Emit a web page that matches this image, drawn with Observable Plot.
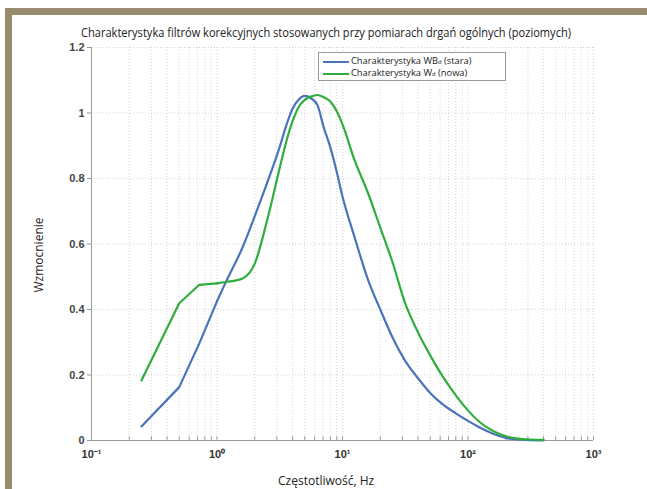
<!DOCTYPE html>
<html>
<head>
<meta charset="utf-8">
<script src="https://cdn.jsdelivr.net/npm/d3@7"></script>
<script src="https://cdn.jsdelivr.net/npm/@observablehq/plot@0.6"></script>
<style>
  html, body { margin: 0; padding: 0; background: #fff; }
  #wrap { position: relative; width: 647px; height: 489px; overflow: hidden; background: #fff; }
  #wrap svg { position: absolute; left: 0; top: 0; }
  .bar { position: absolute; background: #978b6e; }
  .txt { position: absolute; font-family: "Liberation Sans Narrow", "Open Sans", sans-serif; color: #222; white-space: nowrap; }
  #legend { position: absolute; left: 318px; top: 52px; width: 186px; height: 27px; border: 1px solid #9a9a9a; background: #fff;
            font-family: "Open Sans", sans-serif; font-size: 9.3px; color: #222; }
  .lrow { position: absolute; left: 4px; height: 12px; line-height: 12px; white-space: nowrap; }
  .lsw { display: inline-block; width: 26px; height: 0; border-top: 2px solid; vertical-align: middle; margin-right: 2px; }
  .sb { font-size: 6px; }
</style>
</head>
<body>
<div id="wrap"></div>
<script>
// ---- data ----
const freqs    = [0.25, 0.5, 0.72, 1.0, 1.18, 1.6, 2.0, 2.5, 3.15, 3.55, 4.0, 4.5, 5.0, 5.6, 6.3, 7.1, 8.0, 9.0, 10, 12.5, 16, 20, 25, 31.5, 40, 50, 63, 80, 100, 125, 160, 200, 250, 315, 400];
const wbValues = [0.043, 0.163, 0.295, 0.425, 0.485, 0.59, 0.685, 0.785, 0.895, 0.96, 1.013, 1.042, 1.052, 1.045, 1.025, 0.955, 0.895, 0.82, 0.745, 0.62, 0.49, 0.40, 0.315, 0.244, 0.19, 0.145, 0.11, 0.083, 0.06, 0.039, 0.02, 0.008, 0.003, 0.001, 0.0005];
const wkValues = [0.183, 0.419, 0.475, 0.48, 0.484, 0.495, 0.54, 0.67, 0.83, 0.91, 0.975, 1.02, 1.04, 1.05, 1.055, 1.048, 1.035, 1.005, 0.965, 0.855, 0.755, 0.65, 0.545, 0.42, 0.33, 0.26, 0.195, 0.138, 0.092, 0.055, 0.028, 0.013, 0.006, 0.003, 0.002];
const xTicks = [0.1, 1, 10, 100, 1000];
const xTickLabels = ["10\u207B\u00B9", "10\u2070", "10\u00B9", "10\u00B2", "10\u00B3"];
const yTicks = [0, 0.2, 0.4, 0.6, 0.8, 1, 1.2];
const yTickLabels = ["0", "0.2", "0.4", "0.6", "0.8", "1", "1.2"];
const seriesNames = ["Charakterystyka WB", "Charakterystyka W"];
const seriesSubs = ["d", "d"];
const seriesNotes = ["(stara)", "(nowa)"];
const titleText = "Charakterystyka filtrów korekcyjnych stosowanych przy  pomiarach drgań ogólnych (poziomych)";
const xLabel = "Częstotliwość, Hz";
const yLabel = "Wzmocnienie";

const minorX = [];
for (let e = -1; e < 3; e++) for (let k = 1; k <= 9; k++) minorX.push(k * Math.pow(10, e));
minorX.push(1000);

const wbData = freqs.map((f, i) => ({f, v: wbValues[i]}));
const wkData = freqs.map((f, i) => ({f, v: wkValues[i]}));
const lowPart = d => d.f <= 1.0;
const highPart = d => d.f >= 1.0;

const blue = "#4a74b9";
const green = "#2fae3f";

const chart = Plot.plot({
  width: 647,
  height: 489,
  marginLeft: 91,
  marginRight: 54,
  marginTop: 47,
  marginBottom: 49,
  style: {background: "transparent", fontFamily: "Liberation Sans, Arial, sans-serif"},
  x: {type: "log", domain: [0.1, 1000], axis: null},
  y: {domain: [0, 1.2], axis: null},
  marks: [
    Plot.ruleX(minorX, {stroke: "#c0c0c0", strokeDasharray: "1,2", strokeWidth: 0.7}),
    Plot.ruleY(yTicks, {stroke: "#c0c0c0", strokeDasharray: "1,2", strokeWidth: 0.7}),
    Plot.ruleX(minorX, {x: d => d, y1: 0, y2: 0.012, stroke: "#888", strokeWidth: 0.8}),
    Plot.ruleX([0.1], {stroke: "#9a9a9a", strokeWidth: 1}),
    Plot.ruleY([0], {stroke: "#9a9a9a", strokeWidth: 1}),
    Plot.text(xTicks, {x: d => d, y: 0, text: (d, i) => xTickLabels[i], dy: 14, fontSize: 11, fontWeight: "bold", fill: "#333"}),
    Plot.axisY(yTicks, {tickSize: 4, tickPadding: 3, fontSize: 11, fontWeight: "bold", fill: "#444", stroke: "#999",
      tickFormat: d => yTickLabels[yTicks.indexOf(d)], label: null}),
    Plot.line(wbData.filter(lowPart), {x: "f", y: "v", stroke: blue, strokeWidth: 2.2}),
    Plot.line(wbData.filter(highPart), {x: "f", y: "v", stroke: blue, strokeWidth: 2.2, curve: "monotone-x"}),
    Plot.line(wkData.filter(lowPart), {x: "f", y: "v", stroke: green, strokeWidth: 2.2}),
    Plot.line(wkData.filter(highPart), {x: "f", y: "v", stroke: green, strokeWidth: 2.2, curve: "monotone-x"})
  ]
});

const wrap = document.getElementById("wrap");
wrap.appendChild(chart);

function add(html, cls, css) {
  const d = document.createElement("div");
  d.className = cls;
  d.innerHTML = html;
  Object.assign(d.style, css);
  wrap.appendChild(d);
  return d;
}
add("", "bar", {left: "5px", top: "8px", width: "642px", height: "7px"});
add("", "bar", {left: "5px", top: "8px", width: "7px", height: "481px"});
const t = add(titleText, "txt", {left: "81px", top: "24px", fontSize: "12.5px"});
add(xLabel, "txt", {left: "278px", top: "472px", fontSize: "12px"});
const yl = add(yLabel, "txt", {left: "38px", top: "255px", fontSize: "12px", transformOrigin: "0 0"});
yl.style.transform = "rotate(-90deg) translate(-50%, -50%)";

const lg = document.createElement("div");
lg.id = "legend";
lg.innerHTML = [blue, green].map((c, i) =>
  `<div class="lrow" style="top:${2 + 12 * i}px"><span class="lsw" style="border-color:${c}"></span>${seriesNames[i]}<span class="sb">${seriesSubs[i]}</span> ${seriesNotes[i]}</div>`
).join("");
wrap.appendChild(lg);

// fit title width to reference span (81..571)
const tw = t.getBoundingClientRect().width;
if (tw > 0) { t.style.transformOrigin = "0 0"; t.style.transform = `scaleX(${490 / tw})`; }
</script>
</body>
</html>
